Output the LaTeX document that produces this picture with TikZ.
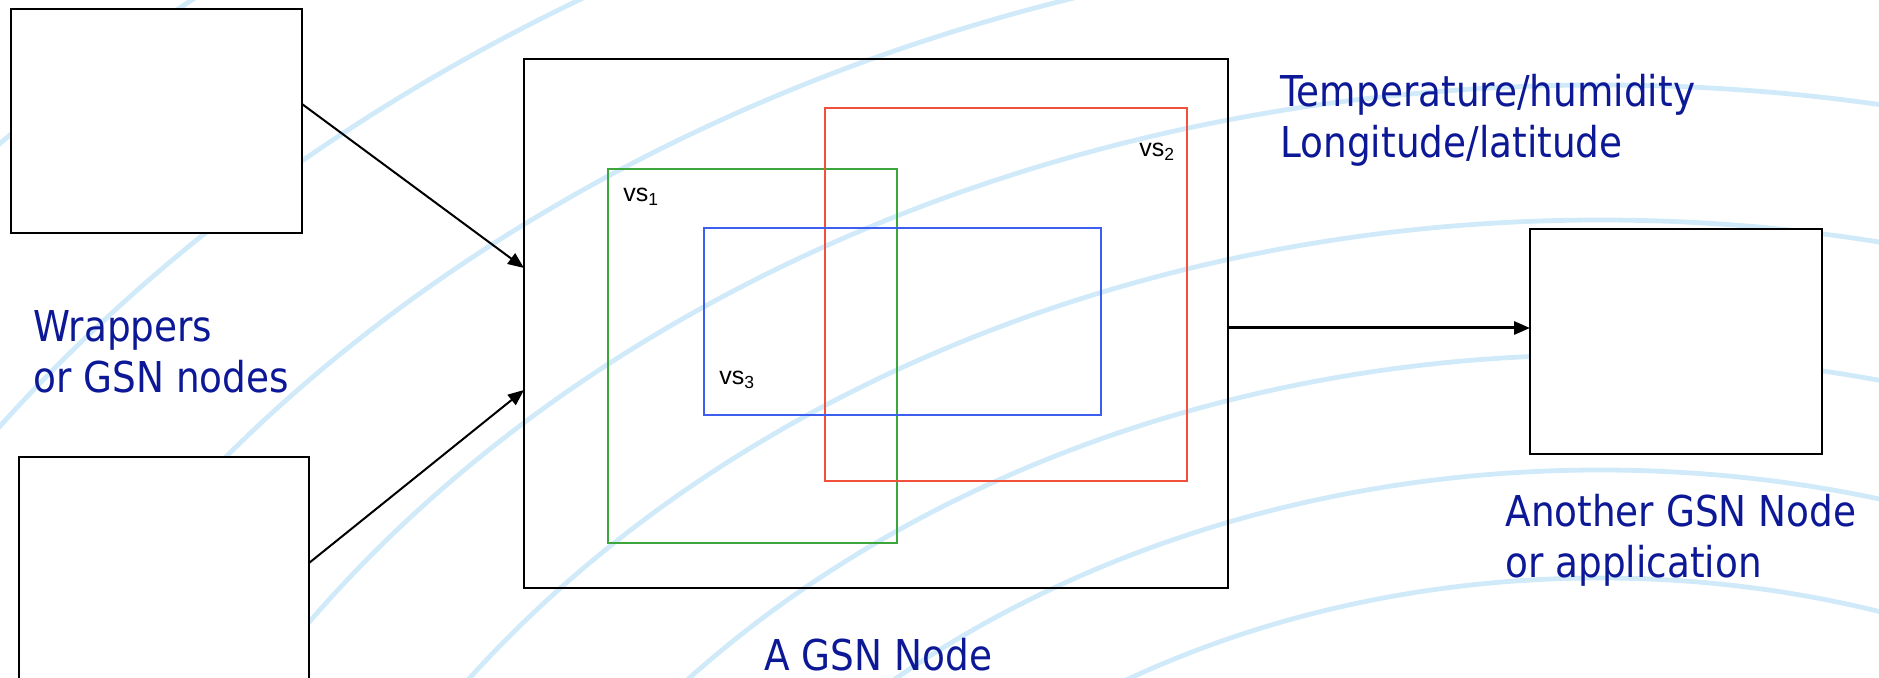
\documentclass[tikz,border=0pt]{standalone}
\usepackage{fontspec}
\setmainfont{DejaVu Sans}[FakeStretch=0.88]
\newfontfamily\vsfont{Liberation Sans}
\usetikzlibrary{arrows.meta,fit}
\definecolor{ripple}{RGB}{208,234,249}
\definecolor{labelblue}{RGB}{12,24,150}
\definecolor{vsgreen}{RGB}{60,165,60}
\definecolor{vsred}{RGB}{240,80,60}
\definecolor{vsblue}{RGB}{60,95,240}
\begin{document}
\begin{tikzpicture}[x=0.5pt,y=-0.5pt,
  box/.style={draw=black, line width=1.3pt, inner sep=0pt, outer sep=0pt},
  solidbox/.style={box, fill=white},
  vsbox/.style={draw=#1, line width=0.75pt, inner sep=0pt, outer sep=0pt},
  flow/.style={draw=black, line width=1pt, -{Triangle[length=8pt,width=6.5pt]}},
  caption/.style={text=labelblue, font=\fontsize{21.25pt}{25.5pt}\selectfont,
    align=left, inner sep=0pt, anchor=base west},
  vslabel/.style={font=\vsfont\fontsize{12.5pt}{14pt}\selectfont,
    inner sep=0pt, anchor=base west}]
\useasboundingbox (0,0) rectangle (1879,678);

% background ripples: concentric ellipses centred below the picture
\begin{scope}
  \clip (0,0) rectangle (1879,678);
  \foreach \b in {722,830,945,1080,1215,1365,1525,1703}
    \draw[ripple, line width=2.4pt] (1600,1300) ellipse [x radius=1.28*\b, y radius=\b];
\end{scope}

% data sources on the left and the consumer on the right
\node[solidbox, fit={(11,9) (302,233)}] (src1) {};
\node[solidbox, fit={(19,457) (309,700)}] (src2) {};
\node[solidbox, fit={(1530,229) (1822,454)}] (dest) {};

% the GSN node and its virtual sensors
\node[box, fit={(524,59) (1228,588)}] (gsn) {};
\node[vsbox=vsgreen, fit={(608,169) (897,543)}] (vsA) {};
\node[vsbox=vsred, fit={(825,108) (1187,481)}] (vsB) {};
\node[vsbox=vsblue, fit={(704,228) (1101,415)}] (vsC) {};

\node[vslabel] (vs1) at (623,202) {vs\textsubscript{1}};
\node[vslabel] (vs2) at (1139,157) {vs\textsubscript{2}};
\node[vslabel] (vs3) at (719,385) {vs\textsubscript{3}};

% captions (a multi-line node sits on the baseline of its last line)
\node[caption] (wrap) at (33,393) {Wrappers\\or GSN nodes};
\node[caption] (meas) at (1280,158) {Temperature/humidity\\Longitude/latitude};
\node[caption] (other) at (1505,577) {Another GSN Node\\or application};
\node[caption] (gsnlab) at (764,670) {A GSN Node};

% data flow
\draw[flow] (src1.east |- 0,104) -- (gsn.west |- 0,268);
\draw[flow] (src2.east |- 0,563) -- (gsn.west |- 0,390);
\draw[flow, line width=1.5pt] (gsn.east |- 0,328) -- (dest.west |- 0,328);
\end{tikzpicture}
\end{document}
